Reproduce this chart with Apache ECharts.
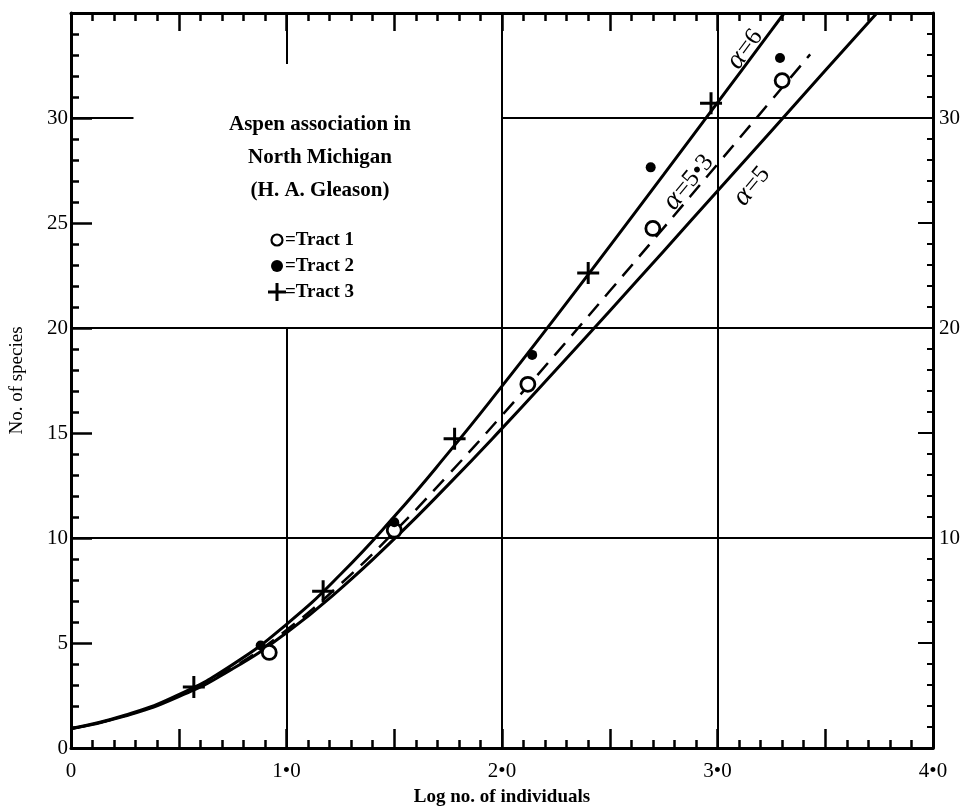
<!DOCTYPE html>
<html>
<head>
<meta charset="utf-8">
<title>Aspen association</title>
<script src="https://cdn.jsdelivr.net/npm/echarts@6/dist/echarts.min.js"></script>
<style>
  body { margin: 0; background: #fff; }
  #chart { width: 965px; height: 812px; }
</style>
</head>
<body>
<div id="chart"></div>
<script>
// fitted curves (log-series)
var alpha6 = [[0, 0.93], [0.25, 1.56], [0.5, 2.54], [0.75, 3.97], [1, 5.89], [1.25, 8.26], [1.5, 11.02], [1.75, 14.04], [2, 17.23], [2.25, 20.53], [2.5, 23.9], [2.75, 27.3], [3, 30.73], [3.25, 34.17], [3.31, 35.0]];
var alpha53 = [[0, 0.92], [0.25, 1.53], [0.5, 2.48], [0.75, 3.83], [1, 5.62], [1.25, 7.8], [1.5, 10.29], [1.75, 13.0], [2, 15.84], [2.25, 18.77], [2.5, 21.76], [2.75, 24.77], [3, 27.8], [3.25, 30.84], [3.43, 33.03]];
var alpha5 = [[0, 0.91], [0.25, 1.52], [0.5, 2.45], [0.75, 3.77], [1, 5.49], [1.25, 7.58], [1.5, 9.96], [1.75, 12.53], [2, 15.22], [2.25, 18.0], [2.5, 20.81], [2.75, 23.66], [3, 26.52], [3.25, 29.38], [3.5, 32.26], [3.74, 35.0]];

// observations
var tract1 = [[0.92, 4.55], [1.50, 10.37], [2.12, 17.32], [2.70, 24.74], [3.30, 31.78]];
var tract2 = [[0.88, 4.88], [1.50, 10.75], [2.14, 18.72], [2.69, 27.65], [3.29, 32.86]];
var tract3 = [[0.57, 2.91], [1.17, 7.46], [1.78, 14.73], [2.40, 22.62], [2.97, 30.7]];

// tick labels
var xTickLabels = ['0', '1\u20220', '2\u20220', '3\u20220', '4\u20220'];
var yLeftLabels = [0, 5, 10, 15, 20, 25, 30];
var yRightLabels = [10, 20, 30];

var serif = '"Liberation Serif", "DejaVu Serif", serif';
var black = '#000';

// grid lines (broken where the key sits)
var gridSegs = [
    [[1, 0], [1, 20]], [[1, 32.57], [1, 35]],
    [[2, 0], [2, 35]], [[3, 0], [3, 35]],
    [[0, 10], [4, 10]], [[0, 20], [4, 20]],
    [[0, 30], [0.29, 30]], [[2, 30], [4, 30]]
];

var plusPath = 'path://M-1.5,-11H1.5V-1.5H11V1.5H1.5V11H-1.5V1.5H-11V-1.5H-1.5Z';

function isInt(v) { return Math.abs(v - Math.round(v)) < 1e-6; }

function xAxisCfg(pos, showLabel) {
    return {
        type: 'value', min: 0, max: 4, interval: 0.5, position: pos,
        axisLine: { onZero: false, lineStyle: { color: black, width: 3 } },
        axisTick: { inside: true, length: pos == 'top' ? 18 : 19, lineStyle: { color: black, width: 2.5 } },
        minorTick: { show: true, splitNumber: 5, length: 8, lineStyle: { color: black, width: 2.5 } },
        splitLine: { show: false },
        axisLabel: {
            show: showLabel, color: black, fontFamily: serif, fontSize: 21, margin: 13,
            formatter: function (v) { return isInt(v) ? xTickLabels[Math.round(v)] : ''; }
        },
        name: showLabel ? 'Log no. of individuals' : '',
        nameLocation: 'middle', nameGap: 40,
        nameTextStyle: { color: black, fontFamily: serif, fontSize: 19, fontWeight: 'bold' }
    };
}

// rotated curve label: italic alpha followed by upright "=n"
function alphaLabel(rest, x, y, deg, shift) {
    return {
        type: 'group', x: x, y: y, rotation: deg * Math.PI / 180, z: 10,
        children: [
            { type: 'text', x: shift, y: 0, style: { text: '\u03b1', font: 'italic 28px ' + serif, fill: black, align: 'right', verticalAlign: 'middle' } },
            { type: 'text', x: shift + 1, y: 0, style: { text: rest, font: '25px ' + serif, fill: black, align: 'left', verticalAlign: 'middle' } }
        ]
    };
}

var dom = document.getElementById('chart');
var myChart = echarts.init(dom);

var option = {
    animation: false,
    backgroundColor: '#fff',
    grid: { left: 68, right: 32, top: 13, bottom: 53 },
    xAxis: [xAxisCfg('bottom', true), xAxisCfg('top', false)],
    yAxis: [
        {
            type: 'value', min: 0, max: 35, interval: 5, position: 'left',
            axisLine: { onZero: false, lineStyle: { color: black, width: 3 } },
            axisTick: { inside: true, length: 21, lineStyle: { color: black, width: 2.5 } },
            minorTick: { show: true, splitNumber: 5, length: 8, lineStyle: { color: black, width: 2.5 } },
            splitLine: { show: false },
            axisLabel: {
                color: black, fontFamily: serif, fontSize: 21, margin: 3,
                formatter: function (v) { return yLeftLabels.indexOf(v) >= 0 ? String(v) : ''; }
            },
            name: 'No. of species', nameLocation: 'middle', nameGap: 44, nameRotate: 90,
            nameTextStyle: { color: black, fontFamily: serif, fontSize: 19 }
        },
        {
            type: 'value', min: 0, max: 35, interval: 5, position: 'right',
            axisLine: { onZero: false, lineStyle: { color: black, width: 3 } },
            axisTick: { inside: true, length: 15, lineStyle: { color: black, width: 2 } },
            minorTick: { show: true, splitNumber: 5, length: 6, lineStyle: { color: black, width: 2 } },
            splitLine: { show: false },
            axisLabel: {
                color: black, fontFamily: serif, fontSize: 21, margin: 6,
                formatter: function (v) { return yRightLabels.indexOf(v) >= 0 ? String(v) : ''; }
            }
        }
    ],
    series: [
        {
            type: 'line', data: [], silent: true,
            markLine: {
                silent: true, symbol: 'none', label: { show: false },
                lineStyle: { color: black, width: 2, type: 'solid' },
                data: gridSegs.map(function (s) { return [{ coord: s[0] }, { coord: s[1] }]; })
            }
        },
        {
            name: 'alpha=6', type: 'line', data: alpha6, smooth: true, showSymbol: false, symbol: 'none',
            lineStyle: { color: black, width: 3 }
        },
        {
            name: 'alpha=5.3', type: 'line', data: alpha53, smooth: true, showSymbol: false, symbol: 'none',
            lineStyle: { color: black, width: 2.5, type: [16, 10] }
        },
        {
            name: 'alpha=5', type: 'line', data: alpha5, smooth: true, showSymbol: false, symbol: 'none',
            lineStyle: { color: black, width: 3 }
        },
        {
            name: 'Tract 1', type: 'scatter', data: tract1, symbol: 'circle', symbolSize: 14, z: 5,
            itemStyle: { color: '#fff', borderColor: black, borderWidth: 2.8, opacity: 1 }
        },
        {
            name: 'Tract 2', type: 'scatter', data: tract2, symbol: 'circle', symbolSize: 10, z: 5,
            itemStyle: { color: black, opacity: 1 }
        },
        {
            name: 'Tract 3', type: 'scatter', data: tract3, symbol: plusPath, symbolSize: 22, z: 5,
            itemStyle: { color: black, opacity: 1 }
        }
    ],
    graphic: [
        { type: 'text', x: 320, y: 125, style: { text: 'Aspen association in', font: 'bold 21px ' + serif, fill: black, align: 'center', verticalAlign: 'middle' } },
        { type: 'text', x: 320, y: 158, style: { text: 'North Michigan', font: 'bold 21px ' + serif, fill: black, align: 'center', verticalAlign: 'middle' } },
        { type: 'text', x: 320, y: 191, style: { text: '(H. A. Gleason)', font: 'bold 21px ' + serif, fill: black, align: 'center', verticalAlign: 'middle' } },
        { type: 'circle', shape: { cx: 277, cy: 240, r: 5.5 }, style: { fill: '#fff', stroke: black, lineWidth: 2.2 } },
        { type: 'circle', shape: { cx: 277, cy: 266, r: 6 }, style: { fill: black } },
        { type: 'rect', shape: { x: 268, y: 290.5, width: 18, height: 3 }, style: { fill: black } },
        { type: 'rect', shape: { x: 275.5, y: 283, width: 3, height: 18 }, style: { fill: black } },
        { type: 'text', x: 285, y: 240, style: { text: '=Tract 1', font: 'bold 19px ' + serif, fill: black, align: 'left', verticalAlign: 'middle' } },
        { type: 'text', x: 285, y: 266, style: { text: '=Tract 2', font: 'bold 19px ' + serif, fill: black, align: 'left', verticalAlign: 'middle' } },
        { type: 'text', x: 285, y: 292, style: { text: '=Tract 3', font: 'bold 19px ' + serif, fill: black, align: 'left', verticalAlign: 'middle' } },
        alphaLabel('=6', 746, 48, 53, -8),
        alphaLabel('=5\u20223', 688, 183, 50, -16),
        alphaLabel('=5', 753, 185, 50, -8)
    ]
};

if (option && typeof option === "object") {
    myChart.setOption(option, true);
}
</script>
</body>
</html>
